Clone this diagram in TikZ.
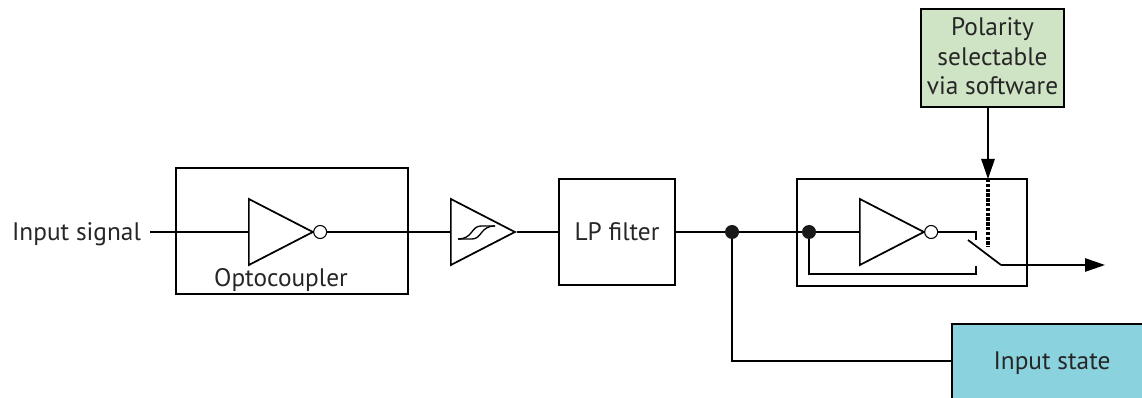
\documentclass[tikz,border=0pt]{standalone}
\usepackage{fontspec}
\setmainfont{PT Sans}
\usetikzlibrary{shapes.geometric,arrows.meta}
\definecolor{softgreen}{HTML}{CFE4C5}
\definecolor{softblue}{HTML}{8AD3DE}
\tikzset{
  block/.style={draw,line width=1.3pt,inner sep=0pt},
  buffer/.style={draw,line width=1.3pt,isosceles triangle,isosceles triangle stretches,shape border rotate=0,
    anchor=lower side,inner sep=0pt,minimum width=49.5pt,minimum height=48pt},
  bubble/.style={draw,line width=0.8pt,circle,fill=white,anchor=west,inner sep=0pt,minimum size=9.75pt,xshift=-1.5pt},
  joint/.style={circle,fill=black!90,inner sep=0pt,minimum size=10.5pt},
  wire/.style={line width=1.3pt}
}
\begin{document}
\begin{tikzpicture}[x=0.75pt,y=-0.75pt,>={Triangle[length=15pt,width=10pt]}, every node/.style={font=\fontsize{19pt}{22pt}\selectfont,text=black!85}]
\useasboundingbox (0,0) rectangle (1142,398);
\node (in) at (76.5,234) {Input signal};
\coordinate (instart) at (150,232);
\node[block,minimum width=174pt,minimum height=94.5pt] (opto) at (292,231) {};
\node[buffer] (inv1) at (248,232) {};
\node[bubble] (bub1) at (inv1.apex) {};
\node (optolabel) at (281,280) {Optocoupler};
\node[buffer] (schmitt) at (450,232) {};
\node[block,minimum width=87pt,minimum height=79.5pt] (lp) at (617,232) {LP filter};
\node[joint] (split) at (732,232) {};
\node[block,minimum width=172.5pt,minimum height=80pt] (pol) at (912,232.5) {};
\node[joint] (polin) at (809,232) {};
\node[buffer] (inv2) at (859,232) {};
\node[bubble] (bub2) at (inv2.apex) {};
\node[block,fill=softgreen,minimum width=107pt,minimum height=73.5pt] (sw) at (992.5,58) {};
\node[align=center] (swlabel) at (992.5,56.5) {Polarity\\selectable\\via software};
\draw[line width=1.3pt,fill=softblue] (952,324) rectangle (1160,420);
\node (state) at (1052,363) {Input state};
\coordinate (upper) at (976,232);
\coordinate (lower) at (976,266);
\coordinate (bladeA) at (968,240);
\coordinate (bladeB) at (1001,265);
\coordinate (out) at (1105,265);
\coordinate (ctrl) at (988,179);
\draw[wire] (instart)--(inv1.lower side);
\draw[wire] (bub1)--(schmitt.lower side);
\draw[wire] (schmitt.apex)--(lp);
\draw[wire] (lp)--(split);
\draw[wire] (split)--(polin);
\draw[wire] (polin)--(inv2.lower side);
\draw[wire] (bub2)--(upper)--(976,240);
\draw[wire] (polin)--(809,274)--(976,274)--(lower);
\draw[wire] (bladeA)--(bladeB);
\draw[wire,->] (bladeB)--(out);
\draw[wire,->] (sw.south-|ctrl)--(ctrl);
\draw[line width=2.6pt,dash pattern=on 2.6pt off 1pt] (ctrl)--(988,247);
\draw[wire] (split)--(732,361)--(952,361);
\draw[line width=1pt] (458,239)--(472,239) .. controls (482,239) and (480,226) .. (495,226);
\draw[line width=1pt] (458,239) .. controls (473,239) and (471,226) .. (481,226)--(495,226);
\end{tikzpicture}
\end{document}
